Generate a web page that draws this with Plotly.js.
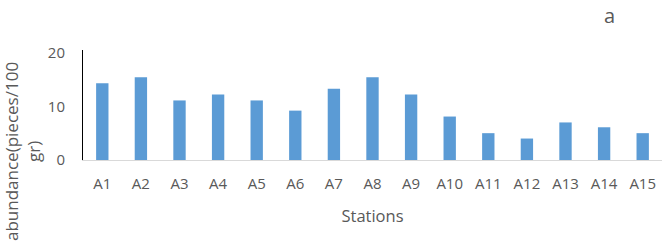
<!DOCTYPE html>
<html><head><meta charset="utf-8">
<script src="https://cdn.plot.ly/plotly-3.0.1.min.js"></script>
<style>html,body{margin:0;padding:0;background:#fff;}#chart{width:662px;height:247px;}</style>
</head><body><div id="chart"></div>
<script>
const stations = ["A1","A2","A3","A4","A5","A6","A7","A8","A9","A10","A11","A12","A13","A14","A15"];
const abundance = [14.3,15.4,11.1,12.2,11.1,9.2,13.3,15.4,12.2,8.1,5,4,7,6.1,5];
const yTicks = [0,10,20];

const font = "'Open Sans', 'Noto Sans', sans-serif";
const trace = {
  type: "bar", x: stations, y: abundance,
  marker: {color: "#5b9bd5"}, hoverinfo: "none"
};
const layout = {
  width: 662, height: 247,
  margin: {l: 83, r: 0, t: 50, b: 87, pad: 0},
  paper_bgcolor: "#fff", plot_bgcolor: "#fff",
  bargap: 0.68,
  showlegend: false,
  font: {family: font, color: "#595959", size: 15},
  xaxis: {
    type: "category", showgrid: false, zeroline: false,
    showline: true, linecolor: "#d9d9d9", linewidth: 1,
    ticks: "", ticklabelstandoff: 10, tickfont: {size: 15, color: "#595959"},
    title: {text: "Stations", font: {size: 16.5, color: "#595959"}, standoff: 18}
  },
  yaxis: {
    range: [0, 20.5], tickvals: yTicks, ticktext: yTicks.map(String),
    showgrid: false, zeroline: false,
    showline: true, linecolor: "#000", linewidth: 1,
    ticks: "", ticklabelstandoff: 14,
    tickfont: {size: 15, color: "#595959"}
  },
  annotations: [
    {text: "abundance(pieces/100<br>gr)", textangle: -90, xref: "paper", yref: "paper",
     x: 0, y: 0, xanchor: "center", yanchor: "middle", xshift: -61, yshift: 8,
     showarrow: false, font: {size: 17, color: "#595959"}, align: "center"},
    {text: "a", xref: "paper", yref: "paper", x: 0, y: 1, xshift: 526, yshift: 35,
     xanchor: "center", yanchor: "middle", showarrow: false,
     font: {size: 20, color: "#595959"}}
  ]
};
Plotly.newPlot("chart", [trace], layout, {displayModeBar: false, staticPlot: true});
</script></body></html>
